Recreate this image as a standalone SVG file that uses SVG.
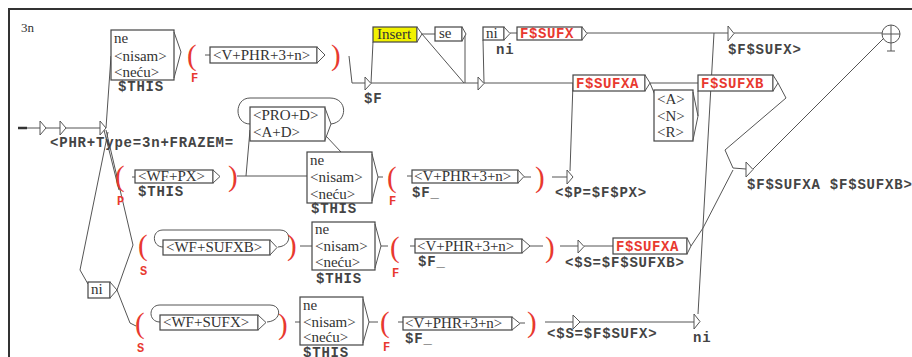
<svg xmlns="http://www.w3.org/2000/svg" width="912" height="357" viewBox="0 0 912 357">
<style>
.box{fill:#fff;stroke:#444;stroke-width:1.2}
.tri{fill:#fff;stroke:#555;stroke-width:1}
.ln{fill:none;stroke:#555;stroke-width:1}
.t{font-family:"Liberation Serif",serif;font-size:15px;fill:#333}
.o{font-family:"Liberation Mono",monospace;font-weight:bold;font-size:14px;letter-spacing:0.8px;fill:#444}
.ro{font-family:"Liberation Mono",monospace;font-weight:bold;font-size:14px;letter-spacing:0.6px;fill:#e8392f}
.par{font-family:"Liberation Serif",serif;font-size:29px;fill:#e8392f}
.rl{font-family:"Liberation Mono",monospace;font-weight:bold;font-size:12px;fill:#e8392f}
</style>
<rect x="9" y="9" width="910" height="360" fill="#fff" stroke="#333" stroke-width="2"/>
<text x="21" y="32" font-family="Liberation Serif" font-size="13" fill="#333">3n</text>

<g id="connectors">
<path class="ln" d="M18,128 L40,128 M46,128 L60,128 M66,128 L100,128" />
<path d="M18,128 L27,128" stroke="#333" stroke-width="2.5"/>
<path class="ln" d="M106,128 L111,56"/>
<path class="ln" d="M104,130 L119,190"/>
<path class="ln" d="M106,130 L133,245"/>
<path class="ln" d="M108,132 L80,270 L88,284"/>
<path class="ln" d="M117,290 L133,245"/>
<path class="ln" d="M117,290 L130,323 L136,326"/>
<path class="ln" d="M205,55 L210,55"/>
<path class="ln" d="M349,56 L352,83 L365,83"/>
<path class="ln" d="M371,83 L373,42"/>
<path class="ln" d="M422,34 L435,34 M465,34 L465,83 M422,34 L464,83 M371,83 L478,83"/>
<path class="ln" d="M484,83 L483,40 M510,33 L517,33 M587,33 L728,33 M734,33 L882,33"/>
<path class="ln" d="M484,83 L573,83"/>
<path class="ln" d="M570,171 L573,83"/>
<path class="ln" d="M650,83 L698,83 M650,83 L655,95 M698,116 L698,91"/>
<path class="ln" d="M714,33 L698,314"/>
<path class="ln" d="M778,83 L786,98 L725,150 L733,168 L746,169"/>
<path class="ln" d="M753,169 L884,38"/>
<path class="ln" d="M691,246 L703,228 L733,170"/>
<path class="ln" d="M237,176 L307,176 M246,176 L250,130"/>
<path class="ln" d="M331,124 C348,122 348,98 330,98 L250,98 C234,98 234,124 250,124"/>
<path class="ln" d="M326,136 L341,152"/>
<path class="ln" d="M132,177 L135,177"/>
<path class="ln" d="M378,177 L383,177 M407,176 L412,176 M524,177 L531,177 M552,177 L567,177"/>
<path class="ln" d="M278,247 C292,246 292,230 280,230 L163,230 C151,230 152,247 163,247"/>
<path class="ln" d="M300,246 L312,246 M381,246 L388,246 M410,246 L415,246 M530,246 L543,246 M560,246 L578,246 M584,246 L613,246"/>
<path class="ln" d="M267,322 C282,321 282,305 270,305 L160,305 C148,305 148,322 160,322"/>
<path class="ln" d="M295,322 L300,322 M369,322 L378,322 M398,322 L403,322 M520,323 L525,323 M545,322 L573,322 M580,322 L694,322"/>
</g>

<g id="n-start">
<polygon class="tri" points="40,121 46,128 40,135"/>
<polygon class="tri" points="60,121 66,128 60,135"/>
<polygon class="tri" points="100,121 106,128 100,135"/>
<text class="o" x="50" y="147">&lt;PHR+Type=3n+FRAZEM=</text>
</g>

<g id="n-ne1">
<rect class="box" x="111" y="30" width="63" height="50"/>
<path class="ln" d="M174,32 L181,52 L174,78"/>
<text class="t" x="114" y="43">ne</text>
<text class="t" x="114" y="61">&lt;nisam&gt;</text>
<text class="t" x="114" y="77">&lt;neću&gt;</text>
<text class="o" x="118" y="91">$THIS</text>
</g>
<g id="n-paren1">
<text class="par" x="187" y="65">(</text>
<text class="rl" x="191" y="82">F</text>
</g>
<g id="n-v1">
<rect class="box" x="210" y="47" width="107" height="16"/>
<polygon class="tri" points="317,47 325,55 317,63"/>
<text class="t" x="213" y="60">&lt;V+PHR+3+n&gt;</text>
</g>
<g id="n-close1"><text class="par" x="331" y="65">)</text></g>
<g id="n-F">
<polygon class="tri" points="365,77 371,83.5 365,90"/>
<text class="o" x="364" y="103">$F</text>
</g>
<g id="n-insert">
<rect x="373" y="27" width="44" height="15" fill="#f2f200" stroke="#444" stroke-width="1.2"/>
<polygon class="tri" points="417,27 422,34 417,42"/>
<text class="t" x="377" y="39">Insert</text>
</g>
<g id="n-se">
<rect class="box" x="435" y="27" width="27" height="14"/>
<polygon class="tri" points="462,27 466,34 462,41"/>
<text class="t" x="439" y="38">se</text>
</g>
<g id="n-e1"><polygon class="tri" points="478,77 484,83.5 478,90"/></g>
<g id="n-ni1">
<rect class="box" x="483" y="27" width="21" height="13"/>
<polygon class="tri" points="504,27 510,33.5 504,40"/>
<text class="t" x="486" y="38">ni</text>
<text class="o" x="496" y="54">ni</text>
</g>
<g id="n-sufx">
<rect class="box" x="517" y="27" width="65" height="13"/>
<polygon class="tri" points="582,27 587,33.5 582,40"/>
<text class="ro" x="520" y="38">F$SUFX</text>
</g>
<g id="n-out-sufx">
<polygon class="tri" points="728,26 734,33.5 728,41"/>
<text class="o" x="728" y="54">$F$SUFX&gt;</text>
</g>
<g id="n-end">
<circle cx="891" cy="34" r="9" fill="#fff" stroke="#555" stroke-width="1"/>
<path class="ln" d="M882,34 L900,34 M891,25 L891,51 M887,51 L895,51"/>
</g>
<g id="n-sufxa1">
<rect class="box" x="573" y="75" width="72" height="16"/>
<polygon class="tri" points="645,75 650,83 645,91"/>
<text class="ro" x="576" y="88">F$SUFXA</text>
</g>
<g id="n-anr">
<rect class="box" x="654" y="90" width="39" height="51"/>
<path class="ln" d="M693,92 L698,116 L693,140"/>
<text class="t" x="657" y="104">&lt;A&gt;</text>
<text class="t" x="657" y="121">&lt;N&gt;</text>
<text class="t" x="657" y="137">&lt;R&gt;</text>
</g>
<g id="n-sufxb1">
<rect class="box" x="698" y="75" width="75" height="16"/>
<polygon class="tri" points="773,75 778,83 773,91"/>
<text class="ro" x="701" y="88">F$SUFXB</text>
</g>
<g id="n-out-ab">
<polygon class="tri" points="746,162 753,169.5 746,177"/>
<text class="o" x="747" y="189">$F$SUFXA $F$SUFXB&gt;</text>
</g>

<g id="n-paren2">
<text class="par" x="115" y="186">(</text>
<text class="rl" x="117" y="205">P</text>
</g>
<g id="n-px">
<rect class="box" x="135" y="170" width="78" height="13"/>
<polygon class="tri" points="213,170 220,176.5 213,183"/>
<text class="t" x="138" y="181">&lt;WF+PX&gt;</text>
<text class="o" x="138" y="196">$THIS</text>
</g>
<g id="n-close2"><text class="par" x="228" y="186">)</text></g>
<g id="n-prod">
<rect class="box" x="250" y="107" width="75" height="34"/>
<path class="ln" d="M325,108 L331,124 L325,140"/>
<text class="t" x="253" y="120">&lt;PRO+D&gt;</text>
<text class="t" x="253" y="137">&lt;A+D&gt;</text>
</g>
<g id="n-ne2">
<rect class="box" x="307" y="152" width="65" height="51"/>
<path class="ln" d="M372,154 L378,177 L372,201"/>
<text class="t" x="310" y="165">ne</text>
<text class="t" x="310" y="182">&lt;nisam&gt;</text>
<text class="t" x="310" y="199">&lt;neću&gt;</text>
<text class="o" x="311" y="213">$THIS</text>
</g>
<g id="n-paren3">
<text class="par" x="387" y="187">(</text>
<text class="rl" x="389" y="205">F</text>
</g>
<g id="n-v2">
<rect class="box" x="412" y="170" width="106" height="13"/>
<polygon class="tri" points="518,170 524,176.5 518,183"/>
<text class="t" x="414" y="181">&lt;V+PHR+3+n&gt;</text>
<text class="o" x="412" y="197">$F_</text>
</g>
<g id="n-close3"><text class="par" x="535" y="187">)</text></g>
<g id="n-outp">
<polygon class="tri" points="567,170 573,177 567,184"/>
<text class="o" x="555" y="197">&lt;$P=$F$PX&gt;</text>
</g>

<g id="n-paren4">
<text class="par" x="138" y="255">(</text>
<text class="rl" x="140" y="275">S</text>
</g>
<g id="n-sufxb">
<rect class="box" x="163" y="240" width="107" height="15"/>
<polygon class="tri" points="270,240 277,247.5 270,255"/>
<text class="t" x="166" y="252">&lt;WF+SUFXB&gt;</text>
</g>
<g id="n-close4"><text class="par" x="287" y="255">)</text></g>
<g id="n-ne3">
<rect class="box" x="312" y="222" width="63" height="48"/>
<path class="ln" d="M375,224 L381,246 L375,268"/>
<text class="t" x="315" y="234">ne</text>
<text class="t" x="315" y="251">&lt;nisam&gt;</text>
<text class="t" x="315" y="267">&lt;neću&gt;</text>
<text class="o" x="316" y="283">$THIS</text>
</g>
<g id="n-paren5">
<text class="par" x="390" y="257">(</text>
<text class="rl" x="392" y="277">F</text>
</g>
<g id="n-v3">
<rect class="box" x="415" y="239" width="107" height="14"/>
<polygon class="tri" points="522,239 530,246 522,253"/>
<text class="t" x="417" y="251">&lt;V+PHR+3+n&gt;</text>
<text class="o" x="418" y="266">$F_</text>
</g>
<g id="n-close5"><text class="par" x="545" y="257">)</text></g>
<g id="n-outs1">
<polygon class="tri" points="578,240 584,246.5 578,253"/>
<text class="o" x="565" y="267" font-size="13.5">&lt;$S=$F$SUFXB&gt;</text>
</g>
<g id="n-sufxa2">
<rect class="box" x="613" y="238" width="74" height="16"/>
<polygon class="tri" points="687,238 691,246 687,254"/>
<text class="ro" x="616" y="251">F$SUFXA</text>
</g>

<g id="n-ni2">
<rect class="box" x="88" y="282" width="22" height="16"/>
<polygon class="tri" points="110,282 117,290 110,298"/>
<text class="t" x="91" y="294">ni</text>
</g>
<g id="n-paren6">
<text class="par" x="135" y="333">(</text>
<text class="rl" x="137" y="352">S</text>
</g>
<g id="n-sufx2">
<rect class="box" x="160" y="315" width="98" height="15"/>
<polygon class="tri" points="258,315 266,322.5 258,330"/>
<text class="t" x="163" y="327">&lt;WF+SUFX&gt;</text>
</g>
<g id="n-close6"><text class="par" x="278" y="334">)</text></g>
<g id="n-ne4">
<rect class="box" x="300" y="297" width="63" height="48"/>
<path class="ln" d="M363,299 L369,322 L363,343"/>
<text class="t" x="303" y="310">ne</text>
<text class="t" x="303" y="327">&lt;nisam&gt;</text>
<text class="t" x="303" y="342">&lt;neću&gt;</text>
<text class="o" x="303" y="357">$THIS</text>
</g>
<g id="n-paren7">
<text class="par" x="380" y="332">(</text>
<text class="rl" x="383" y="351">F</text>
</g>
<g id="n-v4">
<rect class="box" x="403" y="317" width="109" height="13"/>
<polygon class="tri" points="512,317 520,323.5 512,330"/>
<text class="t" x="405" y="328">&lt;V+PHR+3+n&gt;</text>
<text class="o" x="405" y="343">$F_</text>
</g>
<g id="n-close7"><text class="par" x="527" y="332">)</text></g>
<g id="n-outs2">
<polygon class="tri" points="573,315 580,322 573,329"/>
<text class="o" x="547" y="338">&lt;$S=$F$SUFX&gt;</text>
</g>
<g id="n-ni3">
<polygon class="tri" points="694,314 700,321.5 694,329"/>
<text class="o" x="693" y="342">ni</text>
</g>
</svg>
